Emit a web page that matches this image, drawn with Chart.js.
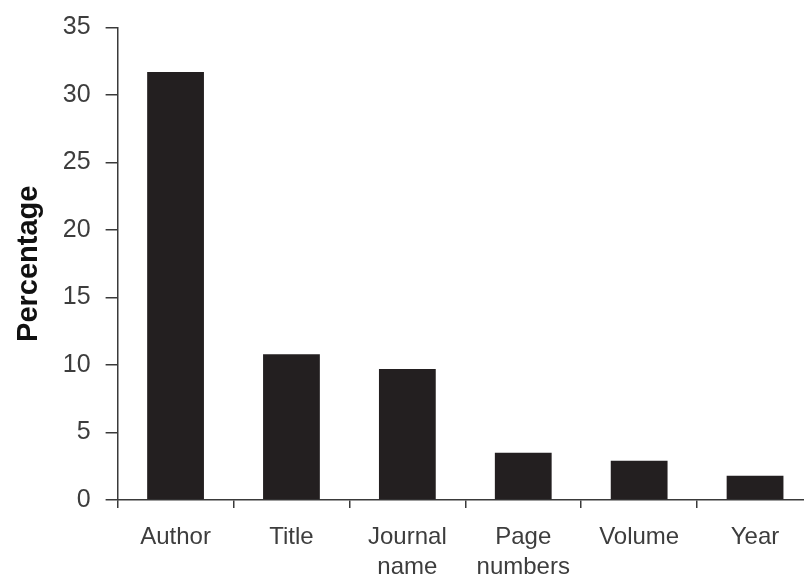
<!DOCTYPE html>
<html>
<head>
<meta charset="utf-8">
<script src="https://cdn.jsdelivr.net/npm/chart.js@4.4.0/dist/chart.umd.min.js"></script>
<style>
  html, body { margin: 0; padding: 0; background: #fff; overflow: hidden; width: 804px; height: 575px; }
  #wrap { position: absolute; left: 0; top: 0; width: 830px; height: 596px; }
</style>
</head>
<body>
<div id="wrap"><canvas id="c" width="830" height="596"></canvas></div>
<script>
const categories = [["Author"], ["Title"], ["Journal", "name"], ["Page", "numbers"], ["Volume"], ["Year"]];
const percentages = [31.7, 10.8, 9.7, 3.5, 2.9, 1.8];
const yTicks = [0, 5, 10, 15, 20, 25, 30, 35];

const axisColor = '#3a3a3a';
const textColor = '#3d3d3d';

new Chart(document.getElementById('c'), {
  type: 'bar',
  data: {
    labels: categories,
    datasets: [{
      data: percentages,
      backgroundColor: '#231f20',
      borderWidth: 0,
      barPercentage: 0.98,
      categoryPercentage: 0.5
    }]
  },
  options: {
    responsive: false,
    devicePixelRatio: 1,
    animation: false,
    events: [],
    layout: { padding: { left: 12, right: 17, top: 0, bottom: 0 } },
    plugins: { legend: { display: false }, tooltip: { enabled: false } },
    scales: {
      x: {
        offset: true,
        grid: { display: true, drawOnChartArea: false, offset: true, tickLength: 8, color: axisColor, lineWidth: 1.5 },
        border: { display: true, color: axisColor, width: 1.5 },
        ticks: { color: textColor, font: { family: 'Liberation Sans', size: 24, lineHeight: 1.25 }, padding: 14, maxRotation: 0, autoSkip: false }
      },
      y: {
        min: 0, max: 35,
        afterBuildTicks: (s) => { s.ticks = yTicks.map(v => ({ value: v })); },
        grid: { display: true, drawOnChartArea: false, tickLength: 12, color: axisColor, lineWidth: 1.5 },
        border: { display: true, color: axisColor, width: 1.5 },
        ticks: { color: textColor, font: { family: 'Liberation Sans', size: 25, lineHeight: 1.0 }, padding: 15 },
        title: {
          display: true, text: 'Percentage', color: '#111',
          font: { family: 'Liberation Sans', size: 29, weight: 'bold', lineHeight: 1.2 },
          padding: { top: 0, bottom: 1 }
        }
      }
    }
  }
});
</script>
</body>
</html>
